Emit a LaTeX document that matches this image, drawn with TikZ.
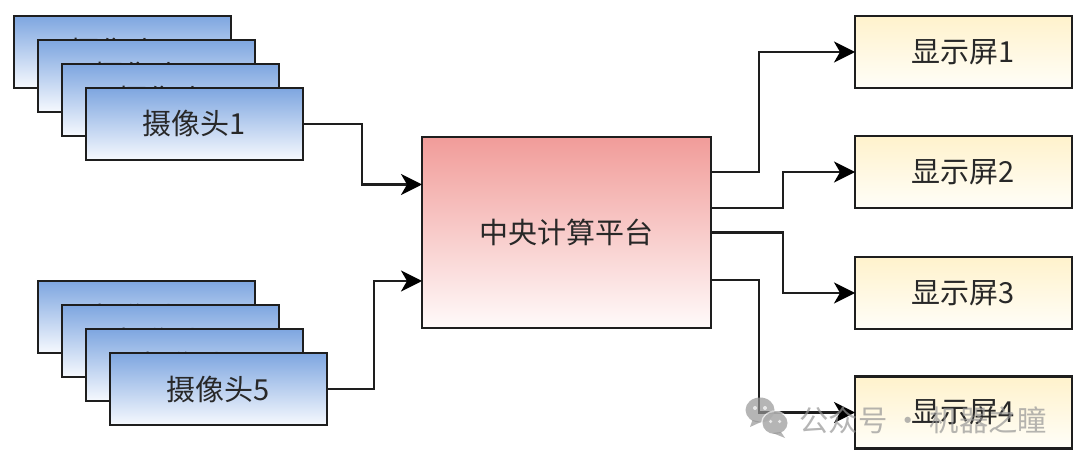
\documentclass[tikz,border=0pt]{standalone}
\usepackage{fontspec}
\usepackage{tikz}
\usetikzlibrary{arrows.meta,positioning}
\setmainfont{Noto Sans CJK SC}
\definecolor{camtop}{RGB}{126,166,224}
\definecolor{cambottom}{RGB}{246,249,254}
\definecolor{hubtop}{RGB}{241,156,153}
\definecolor{hubbottom}{RGB}{255,250,250}
\definecolor{screentop}{RGB}{255,242,204}
\definecolor{screenbottom}{RGB}{255,254,248}
\definecolor{framedark}{RGB}{30,30,30}
\definecolor{labeldark}{RGB}{40,40,40}
\definecolor{markgrey}{RGB}{150,150,150}
\tikzset{
  basebox/.style={draw=framedark,line width=1.4pt,outer sep=0pt,inner sep=0pt,
    text=labeldark,font=\fontsize{16.5pt}{18pt}\selectfont},
  cambox/.style={basebox,minimum width=4.34cm,minimum height=1.44cm,
    top color=camtop,bottom color=cambottom},
  hubbox/.style={basebox,minimum width=5.78cm,minimum height=3.82cm,
    top color=hubtop,bottom color=hubbottom},
  screenbox/.style={basebox,minimum width=4.34cm,minimum height=1.44cm,
    top color=screentop,bottom color=screenbottom},
  link/.style={draw=framedark,line width=1.4pt},
  linkarrow/.style={link,-{Stealth[length=0.42cm,width=0.42cm,inset=0.12cm,color=black]}}
}
\begin{document}
\begin{tikzpicture}
\useasboundingbox (0,0) rectangle (21.6cm,9.24cm);
\fill[white] (0,0) rectangle (21.6cm,9.24cm);
% Camera stacks
\node[cambox] (cam4) at (2.45,8.2) {摄像头4};
\node[cambox] (cam3) at (2.93,7.72) {摄像头3};
\node[cambox] (cam2) at (3.41,7.24) {摄像头2};
\node[cambox] (cam1) at (3.89,6.76) {摄像头1};
\node[cambox] (cam8) at (2.93,2.9) {摄像头8};
\node[cambox] (cam7) at (3.41,2.42) {摄像头7};
\node[cambox] (cam6) at (3.89,1.94) {摄像头6};
\node[cambox] (cam5) at (4.37,1.46) {摄像头5};
% Central platform
\node[hubbox] (hub) at (11.33,4.59) {中央计算平台};
% Screens
\node[screenbox] (screen1) at (19.27,8.2) {显示屏1};
\node[screenbox] (screen2) at (19.27,5.8) {显示屏2};
\node[screenbox] (screen3) at (19.27,3.38) {显示屏3};
\node[screenbox] (screen4) at (19.27,0.99) {显示屏4};
% Connectors
\draw[linkarrow] (cam1.east) -- ++(1.18,0) |- ([yshift=0.96cm]hub.west);
\draw[linkarrow] (cam5.east) -- ++(0.94,0) |- ([yshift=-0.97cm]hub.west);
\draw[linkarrow] ([yshift=1.21cm]hub.east) -- ++(0.96,0) |- (screen1.west);
\draw[linkarrow] ([yshift=0.49cm]hub.east) -- ++(1.44,0) |- (screen2.west);
\draw[linkarrow] (hub.east) -- ++(1.44,0) |- (screen3.west);
\draw[linkarrow] ([yshift=-0.95cm]hub.east) -- ++(0.96,0) |- (screen4.west);
% Watermark
\begin{scope}[opacity=0.7]
\fill[markgrey] (15.2,1.04) ellipse (0.29 and 0.25);
\fill[markgrey] (15.05,0.84) -- (15.0,0.7) -- (15.22,0.8) -- cycle;
\fill[white] (15.1,1.08) circle (0.04) (15.3,1.08) circle (0.04);
\fill[white] (15.5,0.78) ellipse (0.28 and 0.25);
\fill[markgrey] (15.5,0.78) ellipse (0.25 and 0.22);
\fill[markgrey] (15.62,0.6) -- (15.7,0.48) -- (15.45,0.58) -- cycle;
\fill[white] (15.41,0.81) circle (0.035) (15.59,0.81) circle (0.035);
\node[text=markgrey,font=\fontsize{16.7pt}{18pt}\selectfont,anchor=west,inner sep=0pt] (mark) at (15.98,0.84) {公众号 · 机器之瞳};
\end{scope}
\end{tikzpicture}
\end{document}
